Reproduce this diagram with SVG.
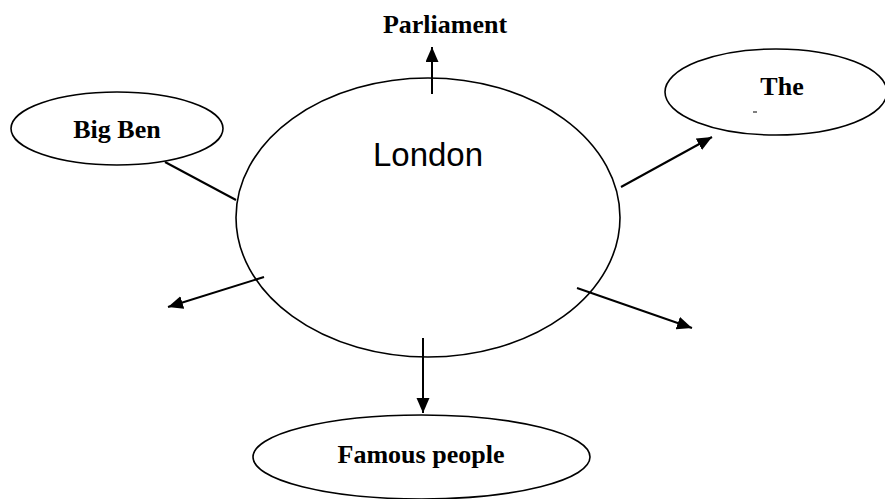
<svg xmlns="http://www.w3.org/2000/svg" width="885" height="499" viewBox="0 0 885 499">
<style>
.node{fill:#fff;stroke:#000;stroke-width:1.6}
.lbl{font-family:"Liberation Serif","Times New Roman",serif;font-weight:bold;font-size:26px;fill:#000;text-anchor:middle}
.main{font-family:"Liberation Sans",Arial,sans-serif;font-size:33px;fill:#000;text-anchor:middle}
.con{stroke:#000;stroke-width:2;fill:none}
</style>
<defs>
<marker id="ah" markerUnits="userSpaceOnUse" markerWidth="16" markerHeight="14" refX="15" refY="6.5" orient="auto">
<path d="M0,0 L15,6.5 L0,13 Z" fill="#000"/>
</marker>
</defs>
<rect width="885" height="499" fill="#fff"/>
<g id="london">
<ellipse class="node" cx="428" cy="217.5" rx="192" ry="139.5"/>
<text class="main" x="428" y="166">London</text>
</g>
<g id="bigben">
<ellipse class="node" cx="117" cy="128.5" rx="106" ry="36.5"/>
<text class="lbl" x="117" y="138">Big Ben</text>
</g>
<g id="the">
<ellipse class="node" cx="776" cy="92" rx="111" ry="43"/>
<text class="lbl" x="782" y="95">The</text>
<line x1="753" y1="112" x2="757" y2="112" stroke="#000" stroke-width="1"/>
</g>
<g id="parliament">
<text class="lbl" x="445" y="33">Parliament</text>
</g>
<g id="famous">
<ellipse class="node" cx="421.5" cy="457" rx="168.5" ry="42"/>
<text class="lbl" x="421" y="463">Famous people</text>
</g>
<g id="connectors">
<line class="con" x1="432" y1="94" x2="432" y2="47" marker-end="url(#ah)"/>
<line class="con" x1="165" y1="162" x2="236" y2="200"/>
<line class="con" x1="621" y1="187" x2="712" y2="137" marker-end="url(#ah)"/>
<line class="con" x1="264" y1="277" x2="168" y2="307" marker-end="url(#ah)"/>
<line class="con" x1="577" y1="288" x2="692" y2="328" marker-end="url(#ah)"/>
<line class="con" x1="423" y1="338" x2="423" y2="413" marker-end="url(#ah)"/>
</g>
</svg>
